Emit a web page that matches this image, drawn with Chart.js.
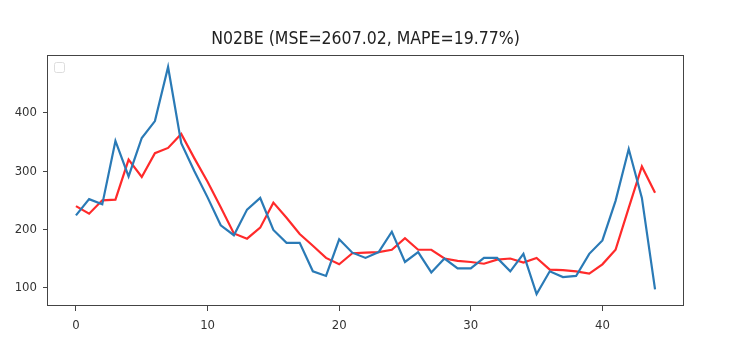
<!DOCTYPE html>
<html>
<head>
<meta charset="utf-8">
<script src="https://cdn.jsdelivr.net/npm/chart.js@4"></script>
<style>
  html, body { margin: 0; padding: 0; background: #fff; }
  #wrap { width: 729px; height: 352px; }
</style>
</head>
<body>
<div id="wrap"><canvas id="chart" width="729" height="352"></canvas></div>
<script>
const titleText = "N02BE (MSE=2607.02, MAPE=19.77%)";

const steps = [0, 1, 2, 3, 4, 5, 6, 7, 8, 9, 10, 11, 12, 13, 14, 15, 16, 17, 18, 19, 20, 21, 22,
  23, 24, 25, 26, 27, 28, 29, 30, 31, 32, 33, 34, 35, 36, 37, 38, 39, 40, 41, 42, 43, 44];

// actual sales (blue)
const actual = [224, 252, 243, 352, 291, 357, 386, 479, 348, 300, 255, 207, 190, 234, 254, 199,
  177, 177, 128, 120, 183, 160, 151, 161, 196, 144, 161, 126, 150, 133, 133, 151,
  151, 128, 158, 89, 128, 118, 120, 158, 181, 249, 338, 254, 97];

// forecast (red)
const forecast = [240, 227, 250, 251, 320, 290, 331, 340, 364, 322, 282, 238, 193, 184, 203, 246,
  220, 192, 172, 151, 140, 159, 160, 161, 165, 185, 165, 165, 150, 146, 144, 141,
  148, 150, 143, 151, 131, 130, 128, 124, 140, 165, 237, 308, 263];

const xTicks = [0, 10, 20, 30, 40];
const yTicks = [100, 200, 300, 400];

const fontFamily = "'DejaVu Sans Condensed', 'Liberation Sans Narrow', 'DejaVu Sans', sans-serif";

const toPoints = (vals) => vals.map((v, i) => ({ x: steps[i], y: v }));

// matplotlib style frame, title over the axes, empty legend box
const framePlugin = {
  id: "frame",
  afterDraw(chart) {
    const { ctx, chartArea: a } = chart;
    ctx.save();
    ctx.strokeStyle = "#444";
    ctx.lineWidth = 1;
    ctx.strokeRect(a.left + 0.5, a.top + 0.5, a.right - a.left - 1, a.bottom - a.top - 1);

    ctx.strokeStyle = "#ddd";
    ctx.beginPath();
    ctx.roundRect(a.left + 7.5, a.top + 7.5, 10, 10, 2);
    ctx.stroke();

    ctx.fillStyle = "#222";
    ctx.font = "17.5px " + fontFamily;
    ctx.textAlign = "center";
    ctx.textBaseline = "middle";
    ctx.fillText(titleText, (a.left + a.right) / 2, 39);
    ctx.restore();
  }
};

new Chart(document.getElementById("chart"), {
  type: "line",
  data: {
    datasets: [
      {
        label: "actual",
        data: toPoints(actual),
        borderColor: "#2a7ab6",
        borderWidth: 2.2,
        pointRadius: 0,
        tension: 0
      },
      {
        label: "forecast",
        data: toPoints(forecast),
        borderColor: "#ff2a2a",
        borderWidth: 2.2,
        pointRadius: 0,
        tension: 0
      }
    ]
  },
  options: {
    responsive: false,
    animation: false,
    layout: { padding: { left: 0, right: 45, top: 55, bottom: 0 } },
    plugins: {
      legend: { display: false },
      tooltip: { enabled: false },
      title: { display: false }
    },
    scales: {
      x: {
        type: "linear",
        min: -2.2,
        max: 46.2,
        afterBuildTicks: (s) => { s.ticks = xTicks.map(v => ({ value: v })); },
        afterFit: (s) => { s.height = 46; },
        grid: { drawOnChartArea: false, drawTicks: true, tickLength: 5, color: "#444" },
        border: { display: false },
        ticks: { color: "#333", font: { family: fontFamily, size: 13 }, padding: 7, maxRotation: 0 }
      },
      y: {
        type: "linear",
        min: 68.4,
        max: 499.6,
        afterBuildTicks: (s) => { s.ticks = yTicks.map(v => ({ value: v })); },
        afterFit: (s) => { s.width = 47; },
        grid: { drawOnChartArea: false, drawTicks: true, tickLength: 4, color: "#444" },
        border: { display: false },
        ticks: { color: "#333", font: { family: fontFamily, size: 13 }, padding: 6 }
      }
    }
  },
  plugins: [framePlugin]
});
</script>
</body>
</html>
